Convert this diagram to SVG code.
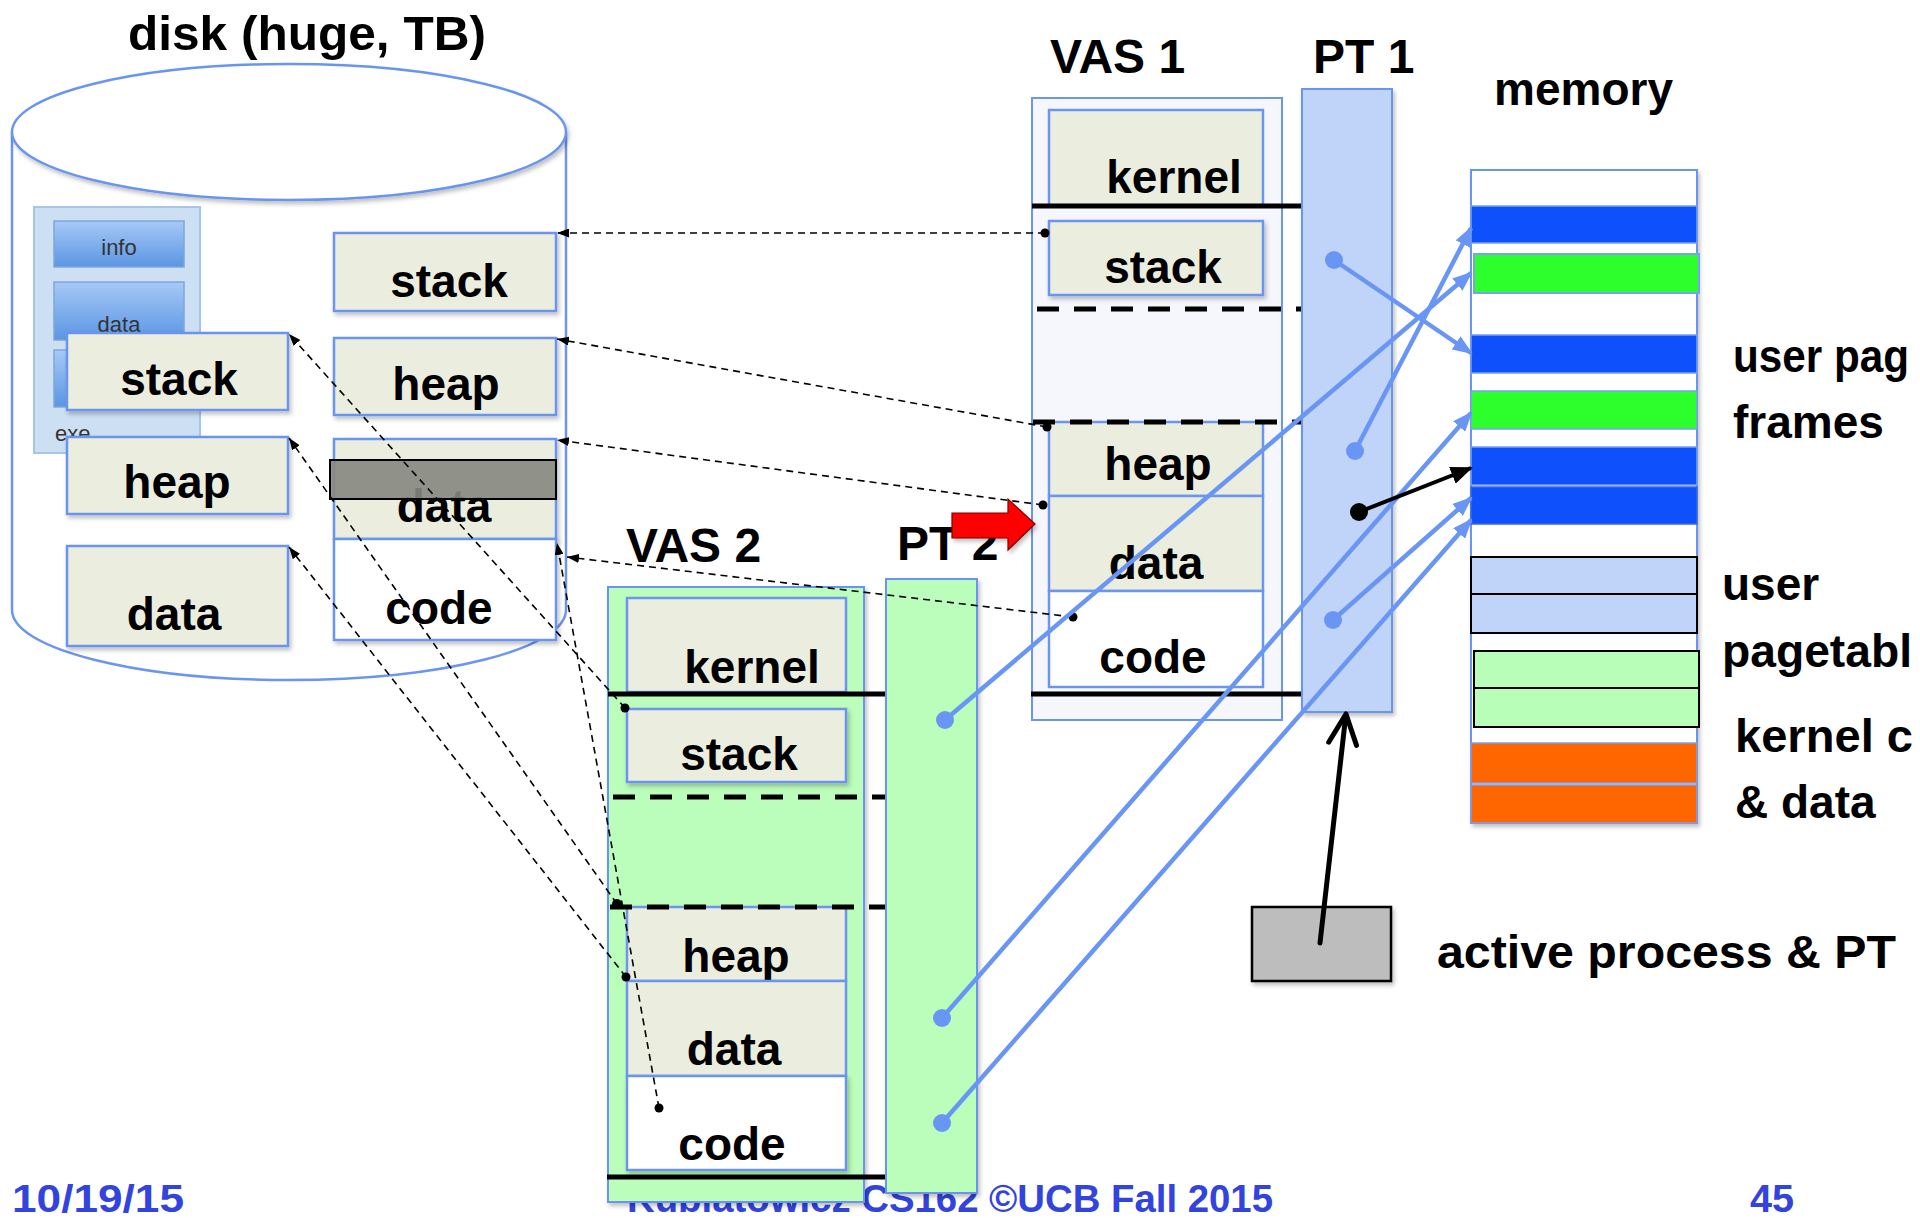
<svg xmlns="http://www.w3.org/2000/svg" width="1920" height="1218" viewBox="0 0 1920 1218">
<style>
text{font-family:"Liberation Sans","DejaVu Sans",sans-serif;font-weight:bold;fill:#000}
.lbl{font-size:46px}
.ttl{font-size:48px}
.mid{text-anchor:middle}
.seg{fill:#ebeedf;stroke:#6b95ef;stroke-width:2.5}
.segw{fill:#ffffff;stroke:#6b95ef;stroke-width:2.5}
.solid{stroke:#000;stroke-width:5;fill:none}
.thick{stroke:#000;stroke-width:5;stroke-dasharray:22 15;fill:none}
.dl{stroke:#000;stroke-width:1.6;stroke-dasharray:7 5;fill:none}
.bl{stroke:#6996f5;stroke-width:4.5;fill:none}
.bdot{fill:#6996f5}
.foot{font-size:38px;fill:#3344dd}
.btn{stroke:#7fa6dd;stroke-width:1.5}
</style>
<defs>
<filter id="sh" x="-10%" y="-10%" width="130%" height="130%">
<feDropShadow dx="2" dy="3" stdDeviation="2" flood-color="#000" flood-opacity="0.25"/>
</filter>
<linearGradient id="bg" x1="0" y1="0" x2="0" y2="1">
<stop offset="0" stop-color="#a6c9f7"/>
<stop offset="1" stop-color="#5b95e2"/>
</linearGradient>
<marker id="ab" viewBox="0 0 20 16" refX="18" refY="8" markerWidth="20" markerHeight="16" markerUnits="userSpaceOnUse" orient="auto">
<path d="M0,0 L20,8 L0,16 z" fill="#6996f5"/>
</marker>
<marker id="ak" viewBox="0 0 22 18" refX="20" refY="9" markerWidth="22" markerHeight="18" markerUnits="userSpaceOnUse" orient="auto">
<path d="M0,0 L22,9 L0,18 z" fill="#000"/>
</marker>
<marker id="ad" viewBox="0 0 12 9" refX="12" refY="4.5" markerWidth="12" markerHeight="9" markerUnits="userSpaceOnUse" orient="auto">
<path d="M0,0 L12,4.5 L0,9 z" fill="#000"/>
</marker>
</defs>
<rect width="1920" height="1218" fill="#fff"/>

<!-- footer (partly covered by VAS 2) -->
<g id="footer">
<text class="foot" x="12" y="1212" textLength="172" lengthAdjust="spacingAndGlyphs">10/19/15</text>
<text class="foot" x="627" y="1212" textLength="646" lengthAdjust="spacingAndGlyphs">Kubiatowicz CS162 ©UCB Fall 2015</text>
<text class="foot" x="1750" y="1212" textLength="44" lengthAdjust="spacingAndGlyphs">45</text>
</g>

<!-- disk -->
<g id="disk">
<text class="ttl" x="128" y="50" textLength="358" lengthAdjust="spacingAndGlyphs">disk (huge, TB)</text>
<path d="M12,132 L12,610 A277,70 0 0 0 566,610 L566,132" fill="#fff" stroke="#6b95ef" stroke-width="2.5"/>
<ellipse cx="289" cy="132" rx="277" ry="68" fill="#fff" stroke="#6b95ef" stroke-width="2.5" filter="url(#sh)"/>
<g id="exe">
<rect x="34" y="207" width="166" height="246" fill="#cddff3" stroke="#a8c4e6" stroke-width="2"/>
<rect class="btn" x="54" y="221" width="130" height="46" fill="url(#bg)"/>
<text x="119" y="255" text-anchor="middle" style="font-size:22px;font-weight:normal;fill:#333">info</text>
<rect class="btn" x="54" y="282" width="130" height="58" fill="url(#bg)"/>
<text x="119" y="332" text-anchor="middle" style="font-size:22px;font-weight:normal;fill:#333">data</text>
<rect class="btn" x="54" y="350" width="130" height="57" fill="url(#bg)"/>
<text x="55" y="441" style="font-size:22px;font-weight:normal;fill:#333">exe</text>
</g>
<g id="disk-stack-2"><rect class="seg" x="67" y="333" width="221" height="77" filter="url(#sh)"/><text class="lbl mid" x="179" y="395">stack</text></g>
<g id="disk-heap-2"><rect class="seg" x="67" y="437" width="221" height="77" filter="url(#sh)"/><text class="lbl mid" x="177" y="498">heap</text></g>
<g id="disk-data-2"><rect class="seg" x="67" y="546" width="221" height="100" filter="url(#sh)"/><text class="lbl mid" x="174" y="630">data</text></g>
<g id="disk-stack-1"><rect class="seg" x="334" y="233" width="222" height="78" filter="url(#sh)"/><text class="lbl mid" x="449" y="297">stack</text></g>
<g id="disk-heap-1"><rect class="seg" x="334" y="338" width="222" height="77" filter="url(#sh)"/><text class="lbl mid" x="446" y="400">heap</text></g>
<g id="disk-data-1"><rect class="seg" x="334" y="439" width="222" height="100" filter="url(#sh)"/><text class="lbl mid" x="444" y="522">data</text></g>
<g id="disk-code"><rect class="segw" x="334" y="539" width="222" height="101" filter="url(#sh)"/><text class="lbl mid" x="439" y="624">code</text></g>
<rect id="disk-gray" x="330" y="460" width="226" height="39" fill="#86867f" fill-opacity="0.9" stroke="#000" stroke-width="2"/>
</g>

<!-- VAS 1 -->
<g id="vas1">
<text class="ttl" x="1050" y="73">VAS 1</text>
<rect x="1032" y="98" width="250" height="622" fill="#f6f7fc" stroke="#6b95ef" stroke-width="2"/>
<g id="vas1-kernel"><rect class="seg" x="1049" y="110" width="214" height="96"/><text class="lbl mid" x="1174" y="193">kernel</text></g>
<g id="vas1-stack"><rect class="seg" x="1049" y="221" width="214" height="74" filter="url(#sh)"/><text class="lbl mid" x="1163" y="283">stack</text></g>
<g id="vas1-heap"><rect class="seg" x="1049" y="422" width="214" height="74"/><text class="lbl mid" x="1158" y="480">heap</text></g>
<g id="vas1-data"><rect class="seg" x="1049" y="496" width="214" height="95"/><text class="lbl mid" x="1156" y="579">data</text></g>
<g id="vas1-code"><rect class="segw" x="1049" y="591" width="214" height="96"/><text class="lbl mid" x="1153" y="673">code</text></g>
<line class="solid" x1="1032" y1="206" x2="1302" y2="206"/>
<line class="thick" x1="1037" y1="309" x2="1302" y2="309"/>
<line class="thick" x1="1033" y1="422" x2="1302" y2="422"/>
<line class="solid" x1="1031" y1="694" x2="1302" y2="694"/>
</g>
<g id="pt1">
<text class="ttl" x="1313" y="73">PT 1</text>
<rect x="1302" y="89" width="90" height="623" fill="#c0d3f8" stroke="#6b95ef" stroke-width="2" filter="url(#sh)"/>
</g>

<!-- VAS 2 -->
<g id="vas2">
<text class="ttl" x="626" y="562">VAS 2</text>
<rect x="608" y="587" width="256" height="615" fill="#bbfdbb" stroke="#6b95ef" stroke-width="2" filter="url(#sh)"/>
<g id="vas2-kernel"><rect class="seg" x="627" y="598" width="219" height="94"/><text class="lbl mid" x="752" y="683">kernel</text></g>
<g id="vas2-stack"><rect class="seg" x="627" y="709" width="219" height="73" filter="url(#sh)"/><text class="lbl mid" x="739" y="770">stack</text></g>
<g id="vas2-heap"><rect class="seg" x="627" y="907" width="219" height="74"/><text class="lbl mid" x="736" y="972">heap</text></g>
<g id="vas2-data"><rect class="seg" x="627" y="981" width="219" height="95"/><text class="lbl mid" x="734" y="1065">data</text></g>
<g id="vas2-code"><rect class="segw" x="627" y="1076" width="219" height="94" filter="url(#sh)"/><text class="lbl mid" x="732" y="1160">code</text></g>
<line class="solid" x1="608" y1="694" x2="886" y2="694"/>
<line class="thick" x1="613" y1="797" x2="886" y2="797"/>
<line class="thick" x1="610" y1="907" x2="886" y2="907"/>
<line class="solid" x1="607" y1="1177" x2="886" y2="1177"/>
</g>
<g id="pt2">
<text class="ttl" x="897" y="560">PT 2</text>
<rect x="886" y="579" width="91" height="614" fill="#bbfdbb" stroke="#6b95ef" stroke-width="2" filter="url(#sh)"/>
</g>

<!-- memory -->
<g id="memory">
<text class="lbl" x="1494" y="105">memory</text>
<rect x="1471" y="170" width="226" height="653" fill="#fff" stroke="#6b95ef" stroke-width="2" filter="url(#sh)"/>
<rect x="1471" y="206" width="226" height="37" fill="#0d50fc" stroke="#7aa0f0" stroke-width="1.5"/>
<rect x="1474" y="254" width="225" height="39" fill="#2cff2c" stroke="#7aa0f0" stroke-width="2"/>
<rect x="1471" y="335" width="226" height="38" fill="#0d50fc" stroke="#7aa0f0" stroke-width="1.5"/>
<rect x="1471" y="391" width="226" height="38" fill="#2cff2c" stroke="#7aa0f0" stroke-width="1.5"/>
<rect x="1471" y="447" width="226" height="38" fill="#0d50fc" stroke="#7aa0f0" stroke-width="1.5"/>
<rect x="1471" y="487" width="226" height="37" fill="#0d50fc" stroke="#3a6ae0" stroke-width="1.5"/>
<rect x="1471" y="557" width="226" height="37" fill="#c0d3f8" stroke="#000" stroke-width="2"/>
<rect x="1471" y="594" width="226" height="39" fill="#c0d3f8" stroke="#000" stroke-width="2"/>
<rect x="1474" y="651" width="225" height="37" fill="#b8fdb8" stroke="#000" stroke-width="2"/>
<rect x="1474" y="688" width="225" height="39" fill="#b8fdb8" stroke="#000" stroke-width="2"/>
<rect x="1471" y="743" width="226" height="40" fill="#ff6600" stroke="#7aa0f0" stroke-width="1.5"/>
<rect x="1471" y="785" width="226" height="38" fill="#ff6600" stroke="#7aa0f0" stroke-width="1.5"/>
<text class="lbl" x="1733" y="372" textLength="176" lengthAdjust="spacingAndGlyphs">user pag</text>
<text class="lbl" x="1733" y="438">frames</text>
<text class="lbl" x="1722" y="600">user</text>
<text class="lbl" x="1722" y="667" textLength="190" lengthAdjust="spacingAndGlyphs">pagetabl</text>
<text class="lbl" x="1735" y="752" textLength="178" lengthAdjust="spacingAndGlyphs">kernel c</text>
<text class="lbl" x="1735" y="818">&amp; data</text>
</g>

<!-- active process -->
<g id="active">
<rect x="1252" y="907" width="139" height="74" fill="#bdbdbd" stroke="#000" stroke-width="2.5" filter="url(#sh)"/>
<text class="lbl" x="1437" y="968" textLength="459" lengthAdjust="spacingAndGlyphs">active process &amp; PT</text>
</g>

<!-- red arrow -->
<polygon id="switch" points="952,513 1008,513 1008,499 1035,524 1008,550 1008,538 952,538" fill="#ff0000" stroke="#800000" stroke-width="1.2" filter="url(#sh)"/>

<!-- connectors -->
<g id="connectors">
<g id="disk-links">
<line class="dl" x1="1045" y1="233" x2="557" y2="233" marker-end="url(#ad)"/>
<line class="dl" x1="1047" y1="427" x2="557" y2="339" marker-end="url(#ad)"/>
<line class="dl" x1="1043" y1="505" x2="557" y2="440" marker-end="url(#ad)"/>
<line class="dl" x1="1073" y1="617" x2="567" y2="557" marker-end="url(#ad)"/>
<line class="dl" x1="625" y1="708" x2="289" y2="334" marker-end="url(#ad)"/>
<line class="dl" x1="617" y1="904" x2="289" y2="438" marker-end="url(#ad)"/>
<line class="dl" x1="626" y1="977" x2="289" y2="547" marker-end="url(#ad)"/>
<line class="dl" x1="659" y1="1108" x2="557" y2="543" marker-end="url(#ad)"/>
<circle cx="1045" cy="233" r="4.5"/>
<circle cx="1047" cy="427" r="4.5"/>
<circle cx="1043" cy="505" r="4.5"/>
<circle cx="1073" cy="617" r="4.5"/>
<circle cx="625" cy="708" r="4.5"/>
<circle cx="617" cy="904" r="5"/>
<circle cx="626" cy="977" r="4.5"/>
<circle cx="659" cy="1108" r="4.5"/>
</g>
<g id="page-links">
<line class="bl" x1="1334" y1="260" x2="1471" y2="353" marker-end="url(#ab)"/>
<line class="bl" x1="1355" y1="451" x2="1471" y2="228" marker-end="url(#ab)"/>
<line class="bl" x1="1333" y1="620" x2="1471" y2="498" marker-end="url(#ab)"/>
<line class="bl" x1="945" y1="720" x2="1471" y2="273" marker-end="url(#ab)"/>
<line class="bl" x1="942" y1="1018" x2="1471" y2="413" marker-end="url(#ab)"/>
<line class="bl" x1="942" y1="1123" x2="1471" y2="520" marker-end="url(#ab)"/>
<circle class="bdot" cx="1334" cy="260" r="9"/>
<circle class="bdot" cx="1355" cy="451" r="9"/>
<circle class="bdot" cx="1333" cy="620" r="9"/>
<circle class="bdot" cx="945" cy="720" r="9"/>
<circle class="bdot" cx="942" cy="1018" r="9"/>
<circle class="bdot" cx="942" cy="1123" r="9"/>
<line x1="1359" y1="512" x2="1471" y2="468" stroke="#000" stroke-width="4" marker-end="url(#ak)"/>
<circle cx="1359" cy="512" r="9"/>
</g>
<g id="active-link">
<line x1="1320" y1="943" x2="1345.6" y2="717" stroke="#000" stroke-width="5" stroke-linecap="round"/>
<polyline points="1328.7,742.2 1346,714 1356.5,745.4" fill="none" stroke="#000" stroke-width="5" stroke-linejoin="round" stroke-linecap="round"/>
</g>
</g>
</svg>
